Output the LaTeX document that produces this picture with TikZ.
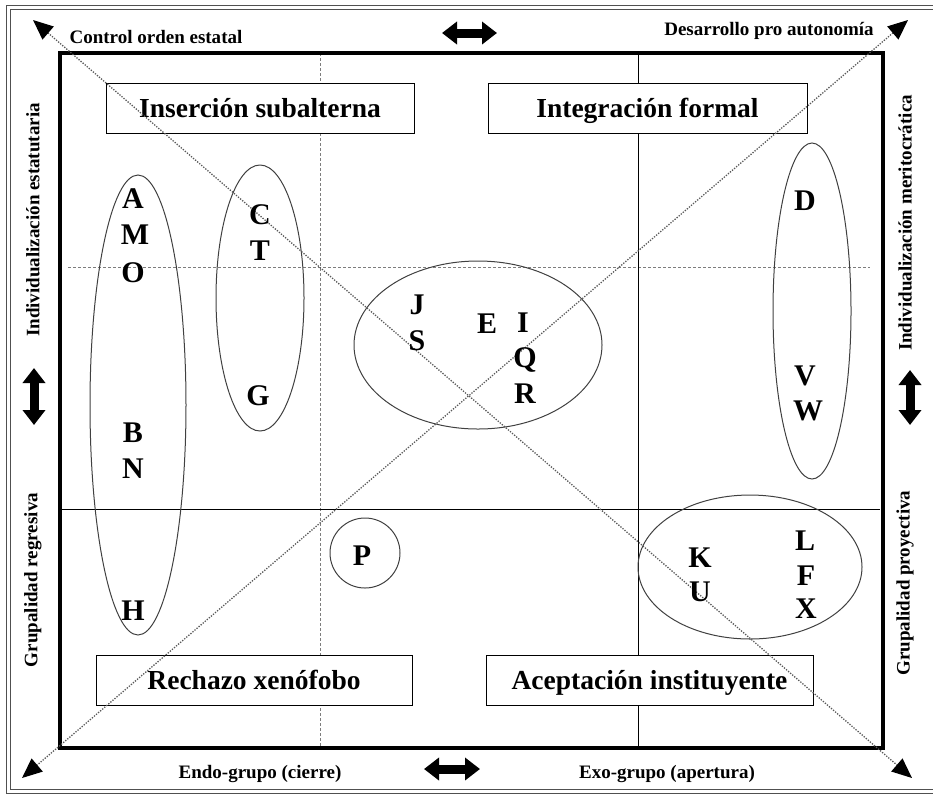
\documentclass[tikz,border=0pt]{standalone}
\usepackage{fontspec}
\setmainfont{Liberation Serif}
\usetikzlibrary{arrows.meta}
\definecolor{guidecolor}{RGB}{125,125,125}
\definecolor{framecolor}{RGB}{80,80,80}

\begin{document}
\begin{tikzpicture}[
  x=1pt, y=-1pt,
  every node/.append style={font=\bfseries},
  letter/.style={font=\fontsize{30}{30}\selectfont\bfseries, inner sep=0pt, text height=20pt, text depth=0pt},
  titlebox/.style={draw, fill=white, line width=0.9pt, minimum height=50pt, inner sep=0pt,
    text height=18pt, text depth=0pt, font=\fontsize{27.5}{27.5}\selectfont\bfseries},
  sidelabel/.style={font=\fontsize{19}{19}\selectfont\bfseries, inner sep=0pt},
  group/.style={line width=1pt, black!75},
  guide/.style={guidecolor, line width=0.9pt, dash pattern=on 3pt off 2pt},
  axis/.style={black, line width=0.9pt},
  diag/.style={black!65, line width=1.3pt, dash pattern=on 1.3pt off 1.4pt,
    {Triangle[length=20pt, width=17pt, color=black]}-{Triangle[length=20pt, width=17pt, color=black]}},
  blockarrow/.style={line width=9pt, {Triangle[length=15pt, width=22pt]}-{Triangle[length=15pt, width=22pt]}},
]

% ---------- frame ----------
\useasboundingbox (0, 0) rectangle (933, 796);
\draw[framecolor, line width=0.8pt] (935, 5) -- (6, 5) -- (6, 793) -- (935, 793);
\draw[framecolor, line width=0.8pt] (935, 9) -- (10, 9) -- (10, 789) -- (935, 789);

% ---------- quadrant lines ----------
\draw[guide] (320, 53) -- (320, 748);
\draw[guide] (68, 267) -- (870, 267);
\draw[axis] (638, 53) -- (638, 748);
\draw[axis] (62, 509) -- (880, 509);
\draw[line width=4pt] (60, 53) rectangle (883, 748);

% ---------- quadrant titles ----------
\node[titlebox, minimum width=308pt] (ins) at (260, 108) {Inserción subalterna};
\node[titlebox, minimum width=319pt] (integ) at (647.5, 108) {Integración formal};
\node[titlebox, minimum width=316pt] (rech) at (254, 680) {Rechazo xenófobo};
\node[titlebox, minimum width=327pt] (acep) at (649.5, 680) {Aceptación instituyente};

% ---------- groups ----------
\draw[group] (138, 405) ellipse [x radius=48, y radius=230];
\draw[group] (260, 298) ellipse [x radius=44, y radius=133];
\draw[group] (478, 345) ellipse [x radius=124, y radius=84];
\draw[group] (812, 311) ellipse [x radius=39, y radius=168];
\draw[group] (365, 553) circle [radius=35];
\draw[group] (750, 567) ellipse [x radius=112, y radius=72];

% ---------- diagonals ----------
\coordinate (nw) at (33, 20);
\coordinate (se) at (912, 778);
\coordinate (ne) at (908, 20);
\coordinate (sw) at (22, 778);
\draw[diag] (nw) -- (se);
\draw[diag] (ne) -- (sw);

% ---------- cases ----------
\foreach \lab/\x/\y in {A/133/198, M/135/234, O/133/272, B/133/432, N/133/468, H/133/610,
    C/260/214, T/260/250, G/258/395,
    J/417/304, S/417/340, E/487/323, I/523/322, Q/525/357, R/525/393,
    D/805/200, V/805/375, W/808/410, P/362/555,
    K/700/557, U/700/591, L/805/540, F/806/575, X/806/608} {
  \node[letter] (l\lab) at (\x, \y) {\lab};
}

% ---------- axis labels ----------
\node[sidelabel] (ctrl) at (156, 37) {Control orden estatal};
\node[sidelabel] (desa) at (769, 31) {Desarrollo pro autonomía};
\node[sidelabel] (endo) at (260, 774) {Endo-grupo (cierre)};
\node[sidelabel] (exo) at (667, 774) {Exo-grupo (apertura)};
\node[sidelabel, rotate=90] (indEst) at (33, 220) {Individualización estatutaria};
\node[sidelabel, rotate=90] (grupReg) at (33, 580) {Grupalidad regresiva};
\node[sidelabel, rotate=90] (indMer) at (905, 223) {Individualización meritocrática};
\node[sidelabel, rotate=90] (grupPro) at (905, 583) {Grupalidad proyectiva};

% ---------- double arrows ----------
\coordinate (topL) at (442, 33);
\coordinate (topR) at (497, 33);
\coordinate (botL) at (424, 769);
\coordinate (botR) at (480, 769);
\coordinate (lefT) at (34, 368);
\coordinate (lefB) at (34, 425);
\coordinate (rigT) at (910, 370);
\coordinate (rigB) at (910, 425);
\draw[blockarrow] (topL) -- (topR);
\draw[blockarrow] (botL) -- (botR);
\draw[blockarrow] (lefT) -- (lefB);
\draw[blockarrow] (rigT) -- (rigB);

\end{tikzpicture}
\end{document}
